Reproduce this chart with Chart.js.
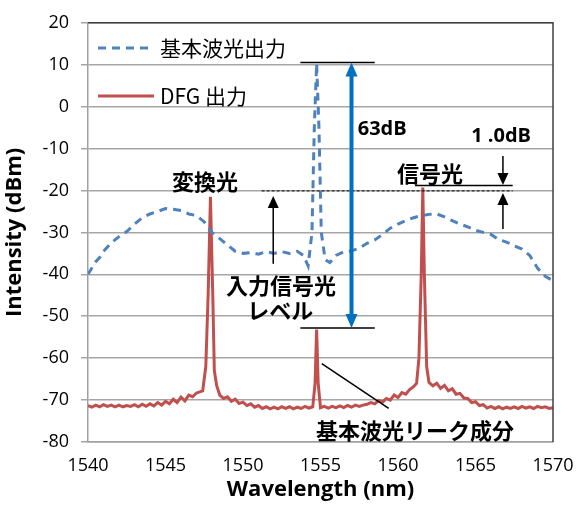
<!DOCTYPE html>
<html>
<head>
<meta charset="utf-8">
<script src="https://cdn.jsdelivr.net/npm/chart.js@4.4.0/dist/chart.umd.min.js"></script>
<style>
  body { margin: 0; background: #fff; }
  #wrap { width: 582px; height: 505px; }
</style>
</head>
<body>
<div id="wrap"><canvas id="chart" width="582" height="505"></canvas></div>
<script>
// 基本波光出力 (blue dashed)
const wavelengthFund = [1540, 1540.25, 1540.5, 1540.75, 1541, 1541.5, 1542, 1542.5, 1543, 1543.5, 1544, 1544.5, 1545, 1545.5, 1546, 1546.5, 1547, 1547.5, 1548, 1548.5, 1549, 1549.5, 1550, 1550.5, 1551, 1551.5, 1552, 1552.5, 1553, 1553.5, 1553.9, 1554.2, 1554.45, 1554.6, 1554.75, 1554.9, 1555.05, 1555.3, 1555.6, 1556, 1556.5, 1557, 1557.5, 1558, 1558.5, 1559, 1559.5, 1560, 1560.5, 1561, 1561.5, 1562, 1562.5, 1563, 1563.5, 1564, 1564.5, 1565, 1565.5, 1566, 1566.5, 1567, 1567.5, 1568, 1568.5, 1569, 1569.5, 1570];
const powerFund = [-40, -38.5, -37, -36, -34.5, -32.5, -31, -29.8, -28, -26.5, -25.6, -25, -24.3, -24.5, -24.8, -25.6, -26, -27.5, -30, -31.5, -33, -34.5, -35, -34.8, -35.2, -34.6, -35, -34.6, -35, -34.5, -35.5, -38, -30, -5, 10.3, -5, -30, -36.5, -37.2, -35.5, -34.6, -34.4, -33.8, -32.6, -31.8, -30.5, -29, -28, -27.2, -26.5, -26, -25.7, -25.6, -26.3, -27.2, -28, -28.7, -29.5, -30, -30.5, -31.7, -32.3, -33.2, -34, -35.5, -38.5, -40.5, -41.5];

// DFG 出力 (red solid)
const wavelengthDfg = [1540, 1540.25, 1540.5, 1540.75, 1541, 1541.25, 1541.5, 1541.75, 1542, 1542.25, 1542.5, 1542.75, 1543, 1543.25, 1543.5, 1543.75, 1544, 1544.25, 1544.5, 1544.75, 1545, 1545.25, 1545.5, 1545.75, 1546, 1546.25, 1546.5, 1546.75, 1547, 1547.25, 1547.4, 1547.6, 1547.75, 1547.9, 1548.05, 1548.15, 1548.3, 1548.5, 1548.75, 1549, 1549.25, 1549.5, 1549.75, 1550, 1550.25, 1550.5, 1550.75, 1551, 1551.25, 1551.5, 1551.75, 1552, 1552.25, 1552.5, 1552.75, 1553, 1553.25, 1553.5, 1553.75, 1554, 1554.25, 1554.5, 1554.65, 1554.75, 1554.85, 1555, 1555.25, 1555.5, 1555.75, 1556, 1556.25, 1556.5, 1556.75, 1557, 1557.25, 1557.5, 1557.75, 1558, 1558.25, 1558.5, 1558.75, 1559, 1559.25, 1559.5, 1559.75, 1560, 1560.25, 1560.5, 1560.75, 1561, 1561.2, 1561.35, 1561.5, 1561.6, 1561.7, 1561.85, 1562, 1562.25, 1562.5, 1562.75, 1563, 1563.25, 1563.5, 1563.75, 1564, 1564.25, 1564.5, 1564.75, 1565, 1565.25, 1565.5, 1565.75, 1566, 1566.25, 1566.5, 1566.75, 1567, 1567.25, 1567.5, 1567.75, 1568, 1568.25, 1568.5, 1568.75, 1569, 1569.25, 1569.5, 1569.75, 1570];
const powerDfg = [-71.3, -71.7, -71.2, -71.6, -71.1, -71.5, -71.2, -71.6, -71.2, -71.6, -71.3, -71.5, -71.1, -71.6, -71, -71.5, -70.9, -71.4, -70.6, -71.2, -70.3, -70.9, -69.8, -70.6, -69.3, -70.2, -68.8, -69.2, -68.3, -68, -67.8, -62, -45, -21.5, -45, -63, -66.5, -68.8, -69.6, -69.2, -70.3, -69.8, -70.8, -70.5, -71.3, -70.9, -71.7, -71.3, -72, -71.6, -72.1, -71.7, -72.1, -71.6, -72, -71.6, -72.1, -71.7, -72, -71.5, -71.9, -71.6, -66, -53.2, -66, -71.8, -71.5, -71.9, -71.5, -71.8, -71.4, -71.8, -71.3, -71.7, -71.2, -71.5, -71.2, -71, -70.6, -70.9, -70.1, -70.5, -69.6, -70, -68.8, -69.4, -68.2, -68.6, -67.5, -66.8, -66, -60, -40, -19.3, -40, -62, -65.8, -66.6, -66, -67.2, -66.5, -67.8, -67.3, -68.6, -68.4, -69.5, -69.6, -70.6, -70.4, -71.3, -71.1, -71.9, -71.5, -72, -71.6, -72.1, -71.7, -72, -71.6, -72, -71.5, -71.9, -71.6, -72, -71.5, -71.8, -71.6, -72, -71.8];

const xTicks = [1540, 1545, 1550, 1555, 1560, 1565, 1570];
const yTicks = [-80, -70, -60, -50, -40, -30, -20, -10, 0, 10, 20];

const blue = '#4F81BD';
const red = '#C0504D';
const arrowBlue = '#0070C0';
const jp = "'Noto Sans CJK JP', 'Noto Sans', sans-serif";

function pairs(xs, ys) {
    return xs.map((x, i) => ({ x: x, y: ys[i] }));
}

function arrowHead(ctx, x, y, dir, w, l, color) {
    ctx.fillStyle = color;
    ctx.beginPath();
    ctx.moveTo(x, y);
    ctx.lineTo(x - w / 2, y + dir * l);
    ctx.lineTo(x + w / 2, y + dir * l);
    ctx.closePath();
    ctx.fill();
}

const annotations = {
    id: 'annotations',
    afterDatasetsDraw(chart) {
        const ctx = chart.ctx;
        const xs = chart.scales.x, ys = chart.scales.y;
        const X = v => xs.getPixelForValue(v);
        const Y = v => ys.getPixelForValue(v);
        const area = chart.chartArea;
        ctx.save();

        // top & right border of plot area
        ctx.strokeStyle = '#404040';
        ctx.lineWidth = 1.5;
        ctx.beginPath();
        ctx.moveTo(area.left, area.top);
        ctx.lineTo(area.right, area.top);
        ctx.lineTo(area.right, area.bottom);
        ctx.stroke();

        // legend
        ctx.lineWidth = 3;
        ctx.strokeStyle = blue;
        ctx.setLineDash([8, 6]);
        ctx.beginPath(); ctx.moveTo(98, 48); ctx.lineTo(154, 48); ctx.stroke();
        ctx.setLineDash([]);
        ctx.strokeStyle = red;
        ctx.beginPath(); ctx.moveTo(98, 96); ctx.lineTo(154, 96); ctx.stroke();
        ctx.fillStyle = '#000';
        ctx.font = '21px ' + jp;
        ctx.textAlign = 'left';
        ctx.textBaseline = 'middle';
        ctx.fillText('基本波光出力', 160, 48);
        ctx.fillText('DFG 出力', 160, 96);

        // black level lines
        ctx.strokeStyle = '#000';
        ctx.lineWidth = 1.5;
        ctx.beginPath();
        ctx.moveTo(X(1553.7), Y(10.5)); ctx.lineTo(X(1558.5), Y(10.5));
        ctx.moveTo(X(1553.7), Y(-52.8)); ctx.lineTo(X(1558.5), Y(-52.8));
        ctx.moveTo(X(1561.1), Y(-18.8)); ctx.lineTo(X(1567.4), Y(-18.8));
        ctx.stroke();

        // dashed input signal level
        ctx.lineWidth = 1;
        ctx.setLineDash([3, 2]);
        ctx.beginPath();
        ctx.moveTo(X(1551.2), Y(-20.1)); ctx.lineTo(X(1567.4), Y(-20.1));
        ctx.stroke();
        ctx.setLineDash([]);

        // blue 63dB arrow
        const bx = X(1557.0);
        ctx.strokeStyle = arrowBlue;
        ctx.lineWidth = 4;
        ctx.beginPath();
        ctx.moveTo(bx, Y(10.5) + 12); ctx.lineTo(bx, Y(-52.8) - 12);
        ctx.stroke();
        arrowHead(ctx, bx, Y(10.5), 1, 12, 14, arrowBlue);
        arrowHead(ctx, bx, Y(-52.8), -1, 12, 14, arrowBlue);

        // black arrows
        ctx.strokeStyle = '#000';
        ctx.lineWidth = 1.5;
        const ax = X(1551.95);
        ctx.beginPath(); ctx.moveTo(ax, Y(-37.5)); ctx.lineTo(ax, Y(-21.3) + 10); ctx.stroke();
        arrowHead(ctx, ax, Y(-21.3), 1, 11, 12, '#000');
        const dx = X(1566.77);
        ctx.beginPath(); ctx.moveTo(dx, Y(-11.8)); ctx.lineTo(dx, Y(-18.7) - 10); ctx.stroke();
        arrowHead(ctx, dx, Y(-18.7), -1, 11, 12, '#000');
        ctx.beginPath(); ctx.moveTo(dx, Y(-29.2)); ctx.lineTo(dx, Y(-20.6) + 10); ctx.stroke();
        arrowHead(ctx, dx, Y(-20.6), 1, 11, 12, '#000');

        // leak pointer line
        ctx.beginPath();
        ctx.moveTo(X(1555.08), Y(-61.3)); ctx.lineTo(X(1559.4), Y(-72));
        ctx.stroke();

        // texts
        ctx.fillStyle = '#000';
        ctx.textBaseline = 'middle';
        ctx.font = 'bold 20px "Open Sans", sans-serif';
        ctx.textAlign = 'left';
        ctx.fillText('63dB', X(1557.4), Y(-5.4));
        ctx.textAlign = 'center';
        ctx.fillText('1 .0dB', X(1566.65), Y(-7.1));
        ctx.font = 'bold 22px ' + jp;
        ctx.fillText('変換光', X(1547.55), Y(-17.8));
        ctx.fillText('信号光', X(1562.06), Y(-15.9));
        ctx.fillText('入力信号光', X(1552.45), Y(-42.7));
        ctx.fillText('レベル', X(1552.4), Y(-48.6));
        ctx.fillText('基本波光リーク成分', X(1561.1), Y(-77.2));
        ctx.restore();
    }
};

new Chart(document.getElementById('chart'), {
    type: 'scatter',
    data: {
        datasets: [{
            label: '基本波光出力',
            data: pairs(wavelengthFund, powerFund),
            showLine: true,
            borderColor: blue,
            borderWidth: 3,
            borderDash: [8, 6],
            pointRadius: 0,
            tension: 0
        }, {
            label: 'DFG 出力',
            data: pairs(wavelengthDfg, powerDfg),
            showLine: true,
            borderColor: red,
            borderWidth: 3,
            pointRadius: 0,
            tension: 0
        }]
    },
    options: {
        responsive: false,
        animation: false,
        layout: { padding: { top: 21, right: 29, left: 0, bottom: 0 } },
        plugins: { legend: { display: false }, tooltip: { enabled: false } },
        scales: {
            x: {
                type: 'linear',
                min: 1540, max: 1570,
                afterBuildTicks: s => { s.ticks = xTicks.map(v => ({ value: v })); },
                afterFit: s => { s.height = 63; },
                grid: { display: false, drawOnChartArea: false, tickLength: 7, color: '#a0a0a0', lineWidth: 1.5 },
                border: { color: '#a0a0a0', width: 1.5 },
                ticks: { color: '#000', padding: 6, font: { family: 'Open Sans', size: 18 }, maxRotation: 0, callback: v => String(v) },
                title: { display: true, text: 'Wavelength (nm)', color: '#000', padding: { top: 0, bottom: 2 }, font: { family: 'Open Sans', size: 22, weight: 'bold' } }
            },
            y: {
                min: -80, max: 20,
                afterBuildTicks: s => { s.ticks = yTicks.map(v => ({ value: v })); },
                afterFit: s => { s.width = 88; },
                grid: { color: '#a6a6a6', lineWidth: 1.5, tickLength: 7 },
                border: { color: '#a0a0a0', width: 1.5 },
                ticks: { color: '#000', padding: 12, font: { family: 'Open Sans', size: 18 } },
                title: { display: true, text: 'Intensity (dBm)', color: '#000', padding: { top: 2, bottom: 0 }, font: { family: 'Open Sans', size: 22, weight: 'bold' } }
            }
        }
    },
    plugins: [annotations]
});
</script>
</body>
</html>
